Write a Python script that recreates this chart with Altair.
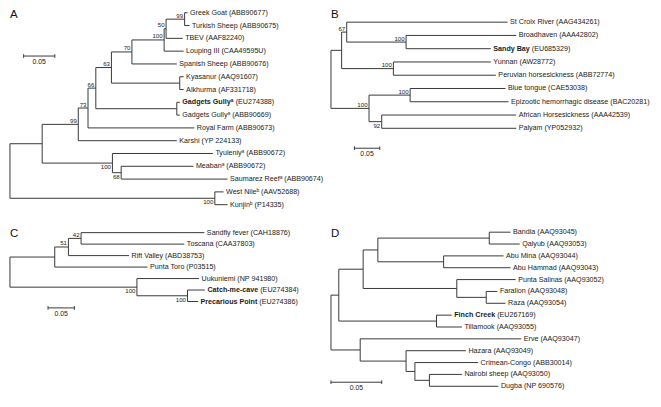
import altair as alt
import pandas as pd

FONT = "Liberation Sans"
LINE = "#3a3a3a"
TEXT = "#1a1a1a"

# ---------------- Panel A (flaviviruses) ----------------
a_node = ["rA", "nA", "n99", "n73", "n66", "n63", "n70", "n100a", "n50", "n99b",
          "GreekGoat", "TurkishSheep", "TBEV", "Louping", "Spanish", "nKA", "Kyasanur",
          "Alkhurma", "nGG", "GG1", "GG2", "Royal", "Karshi", "nTy", "Tyuleniy", "n68",
          "Meaban", "Saumarez", "nWN", "WestNile", "Kunjin"]
a_parent = ["", "rA", "nA", "n99", "n73", "n66", "n63", "n70", "n100a", "n50",
            "n99b", "n99b", "n50", "n100a", "n70", "n63", "nKA",
            "nKA", "n66", "nGG", "nGG", "n73", "n99", "nA", "nTy", "nTy",
            "n68", "n68", "rA", "nWN", "nWN"]
a_depth = [0.0, 0.0516, 0.1094, 0.125, 0.1375, 0.1625, 0.1953, 0.2469, 0.25, 0.2797,
           0.2844, 0.2875, 0.2766, 0.2781, 0.2672, 0.2719, 0.2781,
           0.2781, 0.2672, 0.2719, 0.2719, 0.2953, 0.2672, 0.1641, 0.325, 0.1781,
           0.2938, 0.3484, 0.3281, 0.342, 0.3484]
a_boot = ["", "", "99", "73", "66", "63", "70", "100", "50", "99",
          "", "", "", "", "", "", "", "", "", "", "", "", "", "100", "", "68",
          "", "", "100", "", ""]
a_below = ["nTy", "n68", "nWN"]
a_tip_name = ["Greek Goat", "Turkish Sheep", "TBEV", "Louping III", "Spanish Sheep",
              "Kyasanur", "Alkhurma", "Gadgets Gully\u1d43", "Gadgets Gully\u1d43",
              "Royal Farm", "Karshi", "Tyuleniy\u1d43", "Meaban\u1d43",
              "Saumarez Reef\u1d43", "West Nile\u1d47", "Kunjin\u1d47"]
a_tip_acc = ["(ABB90677)", "(ABB90675)", "(AAF82240)", "(CAA49595U)", "(ABB90676)",
             "(AAQ91607)", "(AF331718)", "(EU274388)", "(ABB90669)", "(ABB90673)",
             "(YP 224133)", "(ABB90672)", "(ABB90672)", "(ABB90674)", "(AAV52688)",
             "(P14335)"]
a_tip_bold = [False] * 7 + [True] + [False] * 8

# ---------------- Panel B (orbiviruses) ----------------
b_node = ["rB", "nBu", "n67", "StCroix", "nBS", "Broadhaven", "Sandy", "nYP", "Yunnan",
          "Peruvian", "nLo", "nBE", "Blue", "EHD", "n92", "AHS", "Palyam"]
b_parent = ["", "rB", "nBu", "n67", "n67", "nBS", "nBS", "nBu", "nYP",
            "nYP", "rB", "nLo", "nBE", "nBE", "nLo", "n92", "n92"]
b_depth = [0.0, 0.021, 0.031, 0.348, 0.148, 0.365, 0.315, 0.123, 0.315,
           0.325, 0.075, 0.156, 0.344, 0.35, 0.1, 0.365, 0.365]
b_boot = ["", "", "67", "", "100", "", "", "100", "", "", "100", "100", "", "", "92", "", ""]
b_below = ["n92"]
b_tip_name = ["St Croix River", "Broadhaven", "Sandy Bay", "Yunnan", "Peruvian horsesickness",
              "Blue tongue", "Epizootic hemorrhagic disease", "African Horsesickness", "Palyam"]
b_tip_acc = ["(AAG434261)", "(AAA42802)", "(EU685329)", "(AW28772)", "(ABB72774)",
             "(CAE53038)", "(BAC20281)", "(AAA42539)", "(YP052932)"]
b_tip_bold = [False, False, True, False, False, False, False, False, False]

# ---------------- Panel C (phleboviruses) ----------------
c_node = ["rC", "nPT", "n51", "n42", "Sandfly", "Toscana", "Rift", "Punta", "nU", "Uuk",
          "nCP", "Catch", "Prec"]
c_parent = ["", "rC", "nPT", "n51", "n42", "n42", "n51", "nPT", "rC", "nU",
            "nU", "nCP", "nCP"]
c_depth = [0.0, 0.085, 0.111, 0.135, 0.369, 0.331, 0.226, 0.261, 0.241, 0.359,
           0.337, 0.370, 0.357]
c_boot = ["", "", "51", "42", "", "", "", "", "100", "", "100", "", ""]
c_below = ["nU", "nCP"]
c_tip_name = ["Sandfly fever", "Toscana", "Rift Valley", "Punta Toro", "Uukuniemi",
              "Catch-me-cave", "Precarious Point"]
c_tip_acc = ["(CAH18876)", "(CAA37803)", "(ABD38753)", "(P03515)", "(NP 941980)",
             "(EU274384)", "(EU274386)"]
c_tip_bold = [False, False, False, False, False, True, True]

# ---------------- Panel D (nairoviruses) ----------------
d_node = ["rD", "n1", "n2", "n3", "n4", "Bandia", "Qalyub", "n5", "AbuMina", "AbuHammad",
          "n6", "PuntaSalinas", "n7", "Faralion", "Raza", "n8", "Finch", "Tillamook",
          "n9", "Erve", "n10", "Hazara", "n11", "Crimean", "n12", "Nairobi", "Dugba"]
d_parent = ["", "rD", "n1", "n2", "n3", "n4", "n4", "n3", "n5", "n5",
            "n2", "n6", "n6", "n7", "n7", "n1", "n8", "n8",
            "rD", "n9", "n9", "n10", "n10", "n11", "n11", "n12", "n12"]
d_depth = [0.0, 0.0077, 0.0317, 0.0462, 0.156, 0.177, 0.186, 0.111, 0.170, 0.177,
           0.124, 0.182, 0.153, 0.164, 0.172, 0.104, 0.119, 0.129,
           0.0288, 0.1875, 0.074, 0.133, 0.0827, 0.145, 0.097, 0.129, 0.165]
d_boot = [""] * len(d_node)
d_below = []
d_tip_name = ["Bandia", "Qalyub", "Abu Mina", "Abu Hammad", "Punta Salinas", "Faralion",
              "Raza", "Finch Creek", "Tillamook", "Erve", "Hazara", "Crimean-Congo",
              "Nairobi sheep", "Dugba"]
d_tip_acc = ["(AAQ93045)", "(AAQ93053)", "(AAQ93044)", "(AAQ93043)", "(AAQ93052)",
             "(AAQ93048)", "(AAQ93054)", "(EU267169)", "(AAQ93055)", "(AAQ93047)",
             "(AAQ93049)", "(ABB30014)", "(AAQ93050)", "(NP 690576)"]
d_tip_bold = [False] * 7 + [True] + [False] * 6

SCALE_LEN = 0.05

# ---------------- layout (reference pixel frame -> screen) ----------------
SX = 643 / 659
SY = 381 / 405
FS = 7.15     # leaf labels
FS_B = 6.1    # bootstrap values
FS_L = 11.5   # panel letters

LAYOUT = {
    "A": dict(root=3, ppu=640, y0=5, step=13.6, L=1, R=330, T=1, B=232, bar=(17, 51), letter=(3, 11)),
    "B": dict(root=331, ppu=520, y0=15, step=14.1, L=330, R=660, T=1, B=232, bar=(355, 149), letter=(331, 11)),
    "C": dict(root=3, ppu=540, y0=238, step=12.2, L=1, R=330, T=232, B=406, bar=(42, 318), letter=(3, 243)),
    "D": dict(root=331, ppu=1040, y0=237.5, step=12.6, L=330, R=660, T=232, B=406, bar=(331, 397), letter=(331, 243)),
}

BOLD_W = {" ": 278, "-": 333, "B": 722, "C": 722, "F": 611, "G": 778, "P": 667, "S": 667,
          "a": 556, "c": 556, "d": 611, "e": 556, "g": 611, "h": 611, "i": 278, "k": 556,
          "l": 278, "m": 889, "n": 611, "o": 611, "r": 389, "s": 556, "t": 333, "u": 611,
          "v": 556, "y": 556}


def bold_width(s, size):
    return sum(BOLD_W.get(ch, 420) for ch in s) * size / 1000.0


def panel(letter, node, parent, depth, boot, below, tname, tacc, tbold):
    lay = LAYOUT[letter]
    children = {n: [] for n in node}
    for n, p in zip(node, parent):
        if p:
            children[p].append(n)
    root = node[parent.index("")]
    dep = dict(zip(node, depth))
    ypos, tips = {}, []

    def walk(n):
        if not children[n]:
            ypos[n] = len(tips)
            tips.append(n)
        else:
            for c in children[n]:
                walk(c)
            ypos[n] = (ypos[children[n][0]] + ypos[children[n][-1]]) / 2.0

    walk(root)

    segs = []
    for n, p in zip(node, parent):
        if p:
            segs.append(dict(x=dep[p], x2=dep[n], y=ypos[n], y2=ypos[n]))
        if children[n]:
            segs.append(dict(x=dep[n], x2=dep[n], y=ypos[children[n][0]], y2=ypos[children[n][-1]]))
    seg_df = pd.DataFrame(segs)

    tip_rows = []
    for i, t in enumerate(tips):
        tip_rows.append(dict(x=dep[t], y=i, name=tname[i], acc=tacc[i], bold=tbold[i],
                             label=tname[i] + " " + tacc[i]))
    tip_df = pd.DataFrame(tip_rows)

    boot_rows = []
    for n, b in zip(node, boot):
        if b:
            boot_rows.append(dict(x=dep[n], y=ypos[n], text=b, below=n in below))
    boot_df = pd.DataFrame(boot_rows) if boot_rows else pd.DataFrame(columns=["x", "y", "text", "below"])

    xs = alt.Scale(domain=[(lay["L"] - lay["root"]) / lay["ppu"], (lay["R"] - lay["root"]) / lay["ppu"]],
                   nice=False, zero=False)
    ys = alt.Scale(domain=[(lay["T"] - lay["y0"]) / lay["step"], (lay["B"] - lay["y0"]) / lay["step"]],
                   nice=False, zero=False, reverse=True)
    X = alt.X("x:Q", scale=xs, axis=None)
    Y = alt.Y("y:Q", scale=ys, axis=None)

    layers = []
    layers.append(alt.Chart(seg_df).mark_rule(color=LINE, strokeWidth=1)
                  .encode(x=X, x2="x2:Q", y=Y, y2="y2:Q"))

    plain = tip_df[~tip_df["bold"]]
    layers.append(alt.Chart(plain).mark_text(align="left", baseline="middle", dx=2.5, font=FONT,
                                             fontSize=FS, color=TEXT)
                  .encode(x=X, y=Y, text="label:N"))
    for _, r in tip_df[tip_df["bold"]].iterrows():
        one = pd.DataFrame([r])
        layers.append(alt.Chart(one).mark_text(align="left", baseline="middle", dx=2.5, font=FONT,
                                               fontSize=FS, fontWeight="bold", color=TEXT)
                      .encode(x=X, y=Y, text="name:N"))
        off = 2.5 + bold_width(r["name"], FS) + 0.278 * FS
        layers.append(alt.Chart(one).mark_text(align="left", baseline="middle", dx=off, font=FONT,
                                               fontSize=FS, color=TEXT)
                      .encode(x=X, y=Y, text="acc:N"))

    if len(boot_df):
        ab = boot_df[~boot_df["below"].astype(bool)]
        bl = boot_df[boot_df["below"].astype(bool)]
        if len(ab):
            layers.append(alt.Chart(ab).mark_text(align="right", baseline="bottom", dx=-1.5, dy=-0.5,
                                                  font=FONT, fontSize=FS_B, color=TEXT)
                          .encode(x=X, y=Y, text="text:N"))
        if len(bl):
            layers.append(alt.Chart(bl).mark_text(align="right", baseline="top", dx=-1.5, dy=1,
                                                  font=FONT, fontSize=FS_B, color=TEXT)
                          .encode(x=X, y=Y, text="text:N"))

    bx = (lay["bar"][0] - lay["root"]) / lay["ppu"]
    by = (lay["bar"][1] - lay["y0"]) / lay["step"]
    bar_df = pd.DataFrame({"x": [bx], "x2": [bx + SCALE_LEN], "y": [by], "text": ["0.05"],
                           "xm": [bx + SCALE_LEN / 2]})
    ends_df = pd.DataFrame({"x": [bx, bx + SCALE_LEN], "y": [by, by]})
    layers.append(alt.Chart(bar_df).mark_rule(color=LINE, strokeWidth=1)
                  .encode(x=X, x2="x2:Q", y=Y))
    layers.append(alt.Chart(ends_df).mark_rule(color=LINE, strokeWidth=1, yOffset=-1.8, y2Offset=1.8)
                  .encode(x=X, y=Y, y2="y:Q"))
    layers.append(alt.Chart(bar_df).mark_text(align="center", baseline="top", dy=3, font=FONT,
                                              fontSize=6.9, color=TEXT)
                  .encode(x=alt.X("xm:Q", scale=xs, axis=None), y=Y, text="text:N"))

    lx, ly = lay["letter"]
    layers.append(alt.Chart(pd.DataFrame({"t": [letter]})).mark_text(
        align="left", baseline="alphabetic", font=FONT, fontSize=FS_L, color="#111")
        .encode(text="t:N", x=alt.value((lx - lay["L"]) * SX), y=alt.value((ly - lay["T"]) * SY)))

    return alt.layer(*layers).properties(width=(lay["R"] - lay["L"]) * SX,
                                         height=(lay["B"] - lay["T"]) * SY)


pA = panel("A", a_node, a_parent, a_depth, a_boot, a_below, a_tip_name, a_tip_acc, a_tip_bold)
pB = panel("B", b_node, b_parent, b_depth, b_boot, b_below, b_tip_name, b_tip_acc, b_tip_bold)
pC = panel("C", c_node, c_parent, c_depth, c_boot, c_below, c_tip_name, c_tip_acc, c_tip_bold)
pD = panel("D", d_node, d_parent, d_depth, d_boot, d_below, d_tip_name, d_tip_acc, d_tip_bold)

chart = (alt.concat(pA, pB, pC, pD, columns=2, spacing=0, bounds="flush")
         .properties(padding=0, background="white")
         .configure_view(stroke=None))

chart.save("out.html", embed_options={"renderer": "svg", "actions": False})
